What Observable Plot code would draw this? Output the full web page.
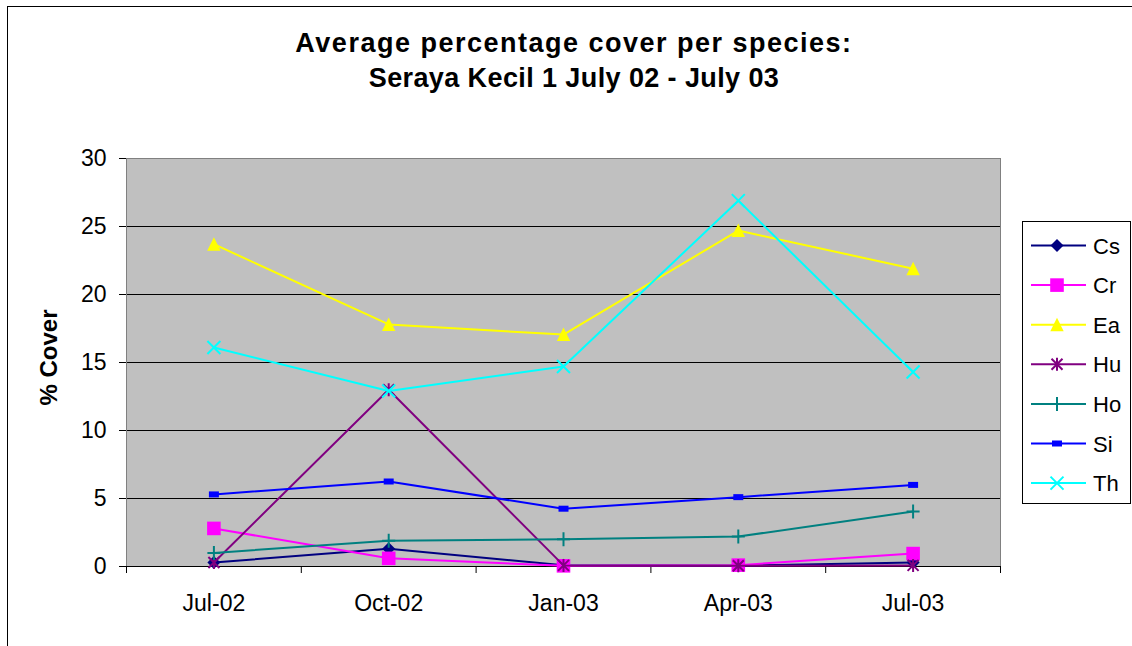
<!DOCTYPE html>
<html>
<head>
<meta charset="utf-8">
<script src="https://cdn.jsdelivr.net/npm/d3@7"></script>
<script src="https://cdn.jsdelivr.net/npm/@observablehq/plot@0.6"></script>
<style>
  html, body { margin: 0; padding: 0; background: #fff; overflow: hidden; }
  #wrap { position: relative; width: 1132px; height: 646px; font-family: "Liberation Sans", Arial, sans-serif; overflow: hidden; }
  #border { position: absolute; left: 7px; top: 6px; width: 1300px; height: 800px; border: 1px solid #000; }
  .title { position: absolute; left: 0; width: 1148px; text-align: center; font-weight: bold; font-size: 27px; line-height: 27px; color: #000; white-space: nowrap; }
  #chart { position: absolute; left: 0; top: 0; }
  #legend { position: absolute; left: 1022px; top: 221px; }
</style>
</head>
<body>
<div id="wrap">
  <div id="border"></div>
  <div id="chart"></div>
  <div class="title" id="t1" style="top:30px; letter-spacing:1.5px;">Average percentage cover per species:</div>
  <div class="title" id="t2" style="top:65px; letter-spacing:0.4px;">Seraya Kecil 1 July 02 - July 03</div>
  <svg id="legend" width="110" height="284"></svg>
</div>
<script>
// ---- data ----
const months = ["Jul-02", "Oct-02", "Jan-03", "Apr-03", "Jul-03"];
const Cs = [0.3, 1.3, 0.1, 0.05, 0.3];
const Cr = [2.8, 0.6, 0.05, 0.1, 0.95];
const Ea = [23.7, 17.8, 17.05, 24.7, 21.9];
const Hu = [0.3, 13.0, 0.08, 0.05, 0.08];
const Ho = [1.0, 1.9, 2.0, 2.2, 4.05];
const Si = [5.3, 6.25, 4.25, 5.1, 6.0];
const Th = [16.1, 12.9, 14.7, 26.9, 14.3];
const seriesNames = ["Cs", "Cr", "Ea", "Hu", "Ho", "Si", "Th"];
const seriesValues = [Cs, Cr, Ea, Hu, Ho, Si, Th];
const yTicks = [0, 5, 10, 15, 20, 25, 30];

// ---- styles ----
const colors = {Cs: "#000080", Cr: "#FF00FF", Ea: "#FFFF00", Hu: "#800080", Ho: "#008080", Si: "#0000FF", Th: "#00FFFF"};
const markers = {
  Cs: {filled: true, draw(c) { const a = 6.5; c.moveTo(0, -a); c.lineTo(a, 0); c.lineTo(0, a); c.lineTo(-a, 0); c.closePath(); }},
  Cr: {filled: true, draw(c) { const h = 6.8; c.rect(-h, -h, 2 * h, 2 * h); }},
  Ea: {filled: true, draw(c) { c.moveTo(0, -7); c.lineTo(6.7, 6.5); c.lineTo(-6.7, 6.5); c.closePath(); }},
  Hu: {filled: false, draw(c) { c.moveTo(0, -6.5); c.lineTo(0, 6.5); c.moveTo(-5.5, -5.5); c.lineTo(5.5, 5.5); c.moveTo(-5.5, 5.5); c.lineTo(5.5, -5.5); }},
  Ho: {filled: false, draw(c) { c.moveTo(0, -7); c.lineTo(0, 7); c.moveTo(-6.5, 0); c.lineTo(6.5, 0); }},
  Si: {filled: true, draw(c) { c.rect(-5, -3, 10, 6); }},
  Th: {filled: false, draw(c) { c.moveTo(-6.5, -6.5); c.lineTo(6.5, 6.5); c.moveTo(-6.5, 6.5); c.lineTo(6.5, -6.5); }}
};

// ---- table ----
const rows = [];
seriesNames.forEach((s, k) => seriesValues[k].forEach((v, i) => rows.push({series: s, i, month: months[i], value: v})));
const idx = months.map((m, i) => i);
const bounds = d3.range(months.length + 1).map(i => i - 0.5);

const font = '"Liberation Sans", Arial, sans-serif';
const marks = [
  Plot.frame({fill: "#C0C0C0", stroke: "none"}),
  Plot.ruleY(yTicks.filter(t => t > 0 && t < 30), {stroke: "#000", strokeWidth: 1}),
  Plot.frame({stroke: "#808080", strokeWidth: 1}),
  Plot.ruleY([0], {stroke: "#000", strokeWidth: 1.2}),
  Plot.axisY({ticks: yTicks, tickSize: 7, tickPadding: 13, fontSize: 23, label: null, stroke: "#000"}),
  Plot.axisX({ticks: bounds, tickSize: 7, tickFormat: () => "", label: null, stroke: "#000"}),
  Plot.axisX({ticks: idx, tickSize: 0, tickPadding: 28, tickFormat: i => months[i], fontSize: 23, label: null}),
  Plot.text(["% Cover"], {frameAnchor: "left", textAnchor: "middle", lineAnchor: "middle", dx: -77, dy: -5, rotate: -90, fontWeight: "bold", fontSize: 24, fill: "#000"})
];
seriesNames.forEach(s => {
  const d = rows.filter(r => r.series === s);
  marks.push(Plot.line(d, {x: "i", y: "value", stroke: colors[s], strokeWidth: 2}));
  const m = markers[s];
  marks.push(Plot.dot(d, {x: "i", y: "value", r: 5, symbol: m,
    fill: m.filled ? colors[s] : "none", stroke: m.filled ? "none" : colors[s], strokeWidth: m.filled ? 0 : 2}));
});

const chart = Plot.plot({
  width: 1132,
  height: 646,
  marginLeft: 126,
  marginRight: 132,
  marginTop: 158,
  marginBottom: 80,
  x: {type: "linear", domain: [-0.5, 4.5], axis: null},
  y: {domain: [0, 30], axis: null},
  style: {fontFamily: font, fontSize: "23px", color: "#000", background: "transparent"},
  marks
});
document.getElementById("chart").appendChild(chart);

// ---- legend ----
const lg = d3.select("#legend");
lg.append("rect").attr("x", 0.5).attr("y", 0.5).attr("width", 108).attr("height", 282)
  .attr("fill", "#fff").attr("stroke", "#000");
seriesNames.forEach((s, k) => {
  const y = 24.5 + k * 39.6;
  const g = lg.append("g");
  g.append("line").attr("x1", 9).attr("x2", 64).attr("y1", y).attr("y2", y)
    .attr("stroke", colors[s]).attr("stroke-width", 2);
  const m = markers[s];
  g.append("path").attr("transform", `translate(35,${y})`).attr("d", d3.symbol(m, 64)())
    .attr("fill", m.filled ? colors[s] : "none").attr("stroke", m.filled ? "none" : colors[s])
    .attr("stroke-width", 2);
  g.append("text").attr("x", 71).attr("y", y + 8).attr("font-family", font).attr("font-size", 22)
    .attr("fill", "#000").text(s);
});
</script>
</body>
</html>
